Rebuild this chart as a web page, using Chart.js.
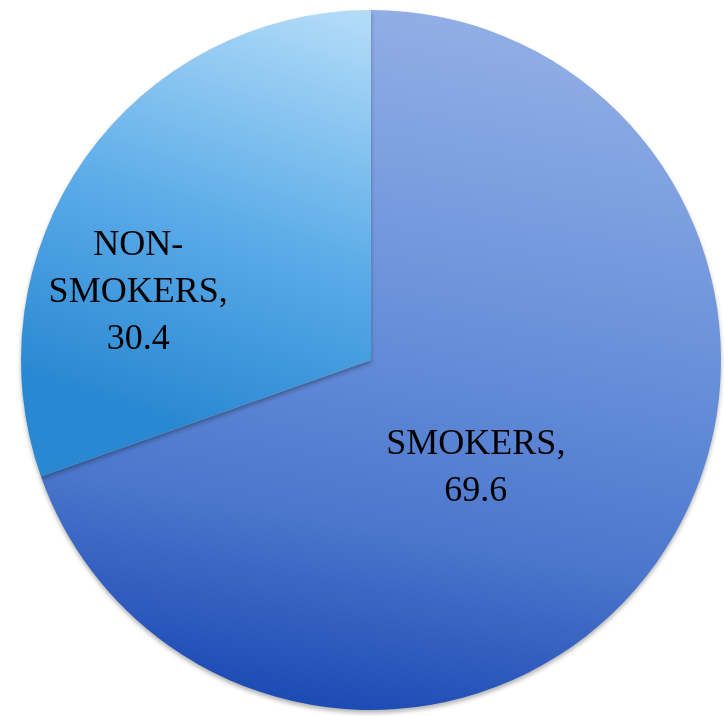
<!DOCTYPE html>
<html>
<head>
<meta charset="utf-8">
<title>Smokers vs non-smokers</title>
<script src="https://cdn.jsdelivr.net/npm/chart.js@4"></script>
<style>
  html, body { margin: 0; padding: 0; background: #fff; }
  #wrap { width: 724px; height: 716px; position: relative; }
</style>
</head>
<body>
<div id="wrap"><canvas id="pie"></canvas></div>
<script>
(() => {
  "use strict";

  const CATEGORIES = ["SMOKERS", "NON-SMOKERS"];
  const LABEL_LINES = [["SMOKERS,", "69.6"], ["NON-", "SMOKERS,", "30.4"]];
  const VALUES = [69.6, 30.4];

  // label nudges relative to each arc's tooltip position
  const LABEL_SHIFT = [[-38, 7], [-90, 34]];

  function sliceFill(ctx) {
    const chart = ctx.chart;
    const area = chart.chartArea;
    if (!area) return "#5d86d6";
    const c = chart.ctx;
    const w = area.right - area.left;
    const h = area.bottom - area.top;
    let g;
    if (ctx.dataIndex === 0) {
      g = c.createLinearGradient(area.left + w * 0.68, area.top, area.left + w * 0.5, area.bottom);
      g.addColorStop(0, "#93b0e6");
      g.addColorStop(0.45, "#6890da");
      g.addColorStop(0.75, "#4b76cc");
      g.addColorStop(1, "#1e4cb5");
    } else {
      g = c.createLinearGradient(area.left + w * 0.45, area.top, area.left + w * 0.25, area.top + h * 0.6);
      g.addColorStop(0, "#b2dbf8");
      g.addColorStop(0.55, "#5aabe8");
      g.addColorStop(1, "#2a88d2");
    }
    return g;
  }

  const shadowPlugin = {
    id: "pieShadow",
    beforeDatasetsDraw(chart) {
      const c = chart.ctx;
      c.save();
      c.shadowColor = "rgba(0,0,0,0.3)";
      c.shadowBlur = 4;
      c.shadowOffsetY = 3;
    },
    afterDatasetsDraw(chart) {
      chart.ctx.restore();
    }
  };

  const labelPlugin = {
    id: "sliceLabels",
    afterDraw(chart) {
      const c = chart.ctx;
      const meta = chart.getDatasetMeta(0);
      c.save();
      c.font = "36px 'Liberation Serif', serif";
      c.fillStyle = "#000";
      c.textAlign = "center";
      c.textBaseline = "middle";
      const lineH = 47;
      meta.data.forEach((arc, i) => {
        const p = arc.tooltipPosition();
        const x = p.x + LABEL_SHIFT[i][0];
        const y = p.y + LABEL_SHIFT[i][1];
        const lines = LABEL_LINES[i];
        const top = y - (lines.length - 1) * lineH / 2;
        lines.forEach((t, k) => c.fillText(t, x, top + k * lineH));
      });
      c.restore();
    }
  };

  new Chart(document.getElementById("pie"), {
    type: "pie",
    data: {
      labels: CATEGORIES,
      datasets: [{
        data: VALUES,
        backgroundColor: sliceFill,
        borderWidth: 0
      }]
    },
    options: {
      responsive: true,
      maintainAspectRatio: false,
      animation: false,
      layout: { padding: { left: 21, top: 10, right: 3, bottom: 6 } },
      plugins: {
        legend: { display: false },
        tooltip: { enabled: false }
      }
    },
    plugins: [shadowPlugin, labelPlugin]
  });
})();
</script>
</body>
</html>
